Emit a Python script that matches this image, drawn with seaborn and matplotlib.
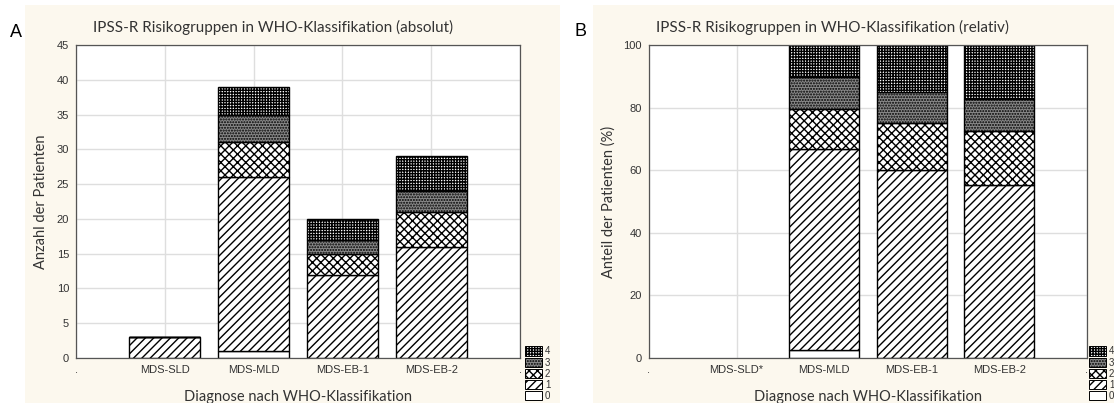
import numpy as np
import pandas as pd
import matplotlib
matplotlib.use("Agg")
import matplotlib.pyplot as plt
import seaborn as sns
from matplotlib.patches import Patch, Rectangle

# ---------------- data ----------------
categories = ["MDS-SLD", "MDS-MLD", "MDS-EB-1", "MDS-EB-2"]
rel_categories = ["MDS-SLD*", "MDS-MLD", "MDS-EB-1", "MDS-EB-2"]
risk_levels = ["0", "1", "2", "3", "4"]
risk_0 = [0, 1, 0, 0]
risk_1 = [3, 25, 12, 16]
risk_2 = [0, 5, 3, 5]
risk_3 = [0, 4, 2, 3]
risk_4 = [0, 4, 3, 5]
rel_included = [False, True, True, True]   # MDS-SLD* not shown in relative chart

title_abs = "IPSS-R Risikogruppen in WHO-Klassifikation (absolut)"
title_rel = "IPSS-R Risikogruppen in WHO-Klassifikation (relativ)"
xlabel = "Diagnose nach WHO-Klassifikation"
ylabel_abs = "Anzahl der Patienten"
ylabel_rel = "Anteil der Patienten (%)"
yticks_abs = [0, 5, 10, 15, 20, 25, 30, 35, 40, 45]
yticks_rel = [0, 20, 40, 60, 80, 100]

CREAM = "#FCF8EE"
TITLE_FONT = "Lato"
TICK_FONT = "Liberation Sans"

sns.set_theme(style="whitegrid")
plt.rcParams.update({
    "font.family": ["DejaVu Sans"],
    "grid.color": "#dedede",
})

styles = {
    "0": dict(facecolor="white", hatch=None),
    "1": dict(facecolor="white", hatch="////"),
    "2": dict(facecolor="white", hatch="xxxx"),
    "3": dict(facecolor="#8a8a8a", hatch="......"),
    "4": dict(facecolor="white", hatch="++++++"),
}

counts = np.array([risk_0, risk_1, risk_2, risk_3, risk_4], dtype=float)

fig = plt.figure(figsize=(11.14, 4.03), dpi=100)
fig.patch.set_facecolor("white")
W, H = 1114.0, 403.0
fig.patches.append(Rectangle((25 / W, 0), (560 - 25) / W, 398 / H, transform=fig.transFigure,
                             facecolor=CREAM, edgecolor="none", zorder=-5))
fig.patches.append(Rectangle((593 / W, 0), (W - 593) / W, 398 / H, transform=fig.transFigure,
                             facecolor=CREAM, edgecolor="none", zorder=-5))

ax1 = fig.add_axes([76 / W, 1 - 358 / H, (520 - 76) / W, (358 - 45) / H])
ax2 = fig.add_axes([649 / W, 1 - 358 / H, (1087 - 649) / W, (358 - 45) / H])


def draw_stacked(ax, cats, values, ylim, yticks, ylab, title, title_x):
    order = ["_l"] + cats + ["_r"]
    bottoms = np.vstack([np.zeros(values.shape[1]), np.cumsum(values, axis=0)[:-1]])
    keep = ~np.isnan(values[0])
    for k in range(len(risk_levels)):
        st = styles[risk_levels[k]]
        df = pd.DataFrame({"diag": np.array(cats)[keep], "val": values[k][keep]})
        sns.barplot(data=df, x="diag", y="val", order=order, color=st["facecolor"],
                    saturation=1, errorbar=None, edgecolor="black",
                    hatch=st["hatch"], bottom=bottoms[k][keep], ax=ax)
    ax.set_xlim(0, len(order) - 1)
    ax.set_ylim(*ylim)
    ax.set_yticks(yticks)
    ax.set_xticks(range(len(order)))
    ax.set_xticklabels(["."] + cats + ["."])
    ax.set_axisbelow(True)
    ax.xaxis.grid(True)
    ax.yaxis.grid(True)
    ax.set_facecolor("white")
    for lab in ax.get_xticklabels() + ax.get_yticklabels():
        lab.set_fontfamily(TICK_FONT)
        lab.set_fontsize(8)
        lab.set_color("#333333")
    ax.tick_params(axis="both", which="both", length=0, pad=5)
    ax.set_xlabel(xlabel, fontfamily=TITLE_FONT, fontsize=10.5, color="#333333", labelpad=11)
    ax.set_ylabel(ylab, fontfamily=TITLE_FONT, fontsize=10.5, color="#333333", labelpad=6)
    fig.text(title_x / W, 1 - 27 / H, title, fontfamily=TITLE_FONT, fontsize=11,
             color="#333333", ha="center", va="center")
    for s in ax.spines.values():
        s.set_visible(True)
        s.set_color("#555555")
        s.set_linewidth(0.9)


draw_stacked(ax1, categories, counts, (0, 45), yticks_abs, ylabel_abs, title_abs, 273)

totals = counts.sum(axis=0)
rel = np.where(np.array(rel_included)[None, :], counts / totals[None, :] * 100.0, np.nan)
draw_stacked(ax2, rel_categories, rel, (0, 100), yticks_rel, ylabel_rel, title_rel, 833)


def add_legend(x_px):
    handles = []
    for lev in reversed(risk_levels):
        st = styles[lev]
        handles.append(Patch(facecolor=st["facecolor"], edgecolor="black", hatch=st["hatch"],
                             linewidth=0.7, label=lev))
    leg = fig.legend(handles=handles, loc="lower left",
                     bbox_to_anchor=(x_px / W, 1 - 402 / H), bbox_transform=fig.transFigure,
                     frameon=False, fontsize=7, handlelength=1.7, handleheight=1.1,
                     labelspacing=0.12, handletextpad=0.35, borderpad=0.1, borderaxespad=0)
    for t in leg.get_texts():
        t.set_fontfamily(TICK_FONT)
        t.set_color("#333333")
    return leg


add_legend(524)
add_legend(1088)

fig.text(10 / W, 1 - 37 / H, "A", fontsize=13, fontfamily=TICK_FONT, color="black")
fig.text(574 / W, 1 - 36 / H, "B", fontsize=13, fontfamily=TICK_FONT, color="black")

fig.savefig("out.png", dpi=100, facecolor=fig.get_facecolor())
